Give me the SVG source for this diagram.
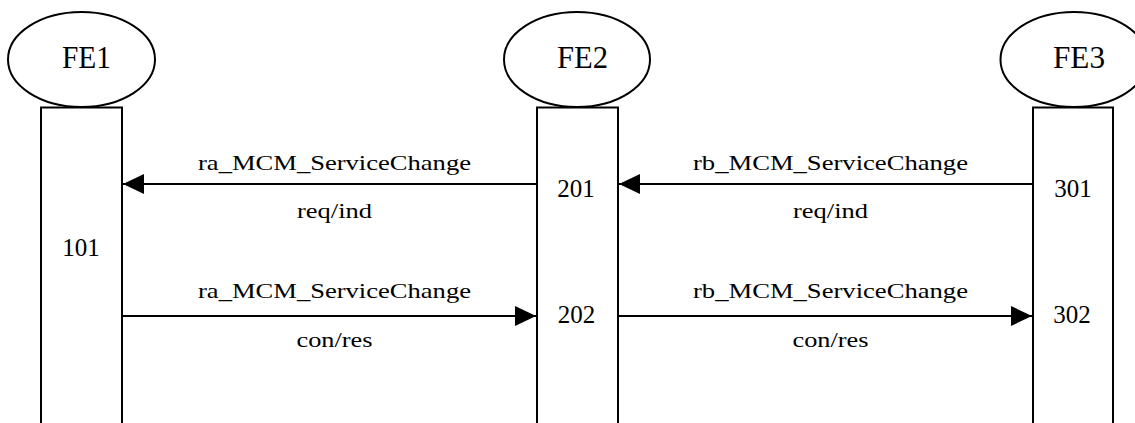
<svg xmlns="http://www.w3.org/2000/svg" width="1135" height="423" viewBox="0 0 1135 423">
<style>
.shape{fill:#fff;stroke:#000;stroke-width:2}
.t{font-family:'Liberation Serif','Times New Roman',Tinos,Times,'Nimbus Roman','Nimbus Roman No9 L',FreeSerif,serif;fill:#000;text-anchor:middle}
.fe{font-size:32px}
.num{font-size:25px}
.lbl{font-size:21px}
.conn{stroke:#000;stroke-width:2;fill:none}
</style>
<defs>
<marker id="ah" markerUnits="userSpaceOnUse" markerWidth="22" markerHeight="22" viewBox="0 0 22 22" refX="21" refY="11" orient="auto">
<path d="M0,1 L21,11 L0,21 Z" fill="#000"/>
</marker>
</defs>
<g id="FE1">
<ellipse class="shape" cx="81.5" cy="59.5" rx="73.5" ry="47.5"/>
<text class="t fe" x="86.5" y="67.5" textLength="49" lengthAdjust="spacingAndGlyphs">FE1</text>
<rect class="shape" x="41" y="107.5" width="81" height="330"/>
<text class="t num" x="81" y="256">101</text>
</g>
<g id="FE2">
<ellipse class="shape" cx="577" cy="59.5" rx="73" ry="47.5"/>
<text class="t fe" x="582.5" y="67.5" textLength="51" lengthAdjust="spacingAndGlyphs">FE2</text>
<rect class="shape" x="537" y="107.5" width="81" height="330"/>
<text class="t num" x="576" y="197">201</text>
<text class="t num" x="576.5" y="323">202</text>
</g>
<g id="FE3">
<ellipse class="shape" cx="1074" cy="59.5" rx="73.5" ry="47.5"/>
<text class="t fe" x="1079" y="67.5" textLength="52" lengthAdjust="spacingAndGlyphs">FE3</text>
<rect class="shape" x="1033" y="107.5" width="80" height="330"/>
<text class="t num" x="1073" y="197">301</text>
<text class="t num" x="1072" y="323">302</text>
</g>
<g id="connectors">
<line class="conn" x1="537" y1="184" x2="123" y2="184" marker-end="url(#ah)"/>
<text class="t lbl" x="334.5" y="170" textLength="273" lengthAdjust="spacingAndGlyphs">ra_MCM_ServiceChange</text>
<text class="t lbl" x="334.5" y="218" textLength="75" lengthAdjust="spacingAndGlyphs">req/ind</text>
<line class="conn" x1="1033" y1="184" x2="619" y2="184" marker-end="url(#ah)"/>
<text class="t lbl" x="830.5" y="170" textLength="275" lengthAdjust="spacingAndGlyphs">rb_MCM_ServiceChange</text>
<text class="t lbl" x="830.5" y="218" textLength="75" lengthAdjust="spacingAndGlyphs">req/ind</text>
<line class="conn" x1="122" y1="316" x2="536" y2="316" marker-end="url(#ah)"/>
<text class="t lbl" x="334.5" y="298" textLength="273" lengthAdjust="spacingAndGlyphs">ra_MCM_ServiceChange</text>
<text class="t lbl" x="334.5" y="347" textLength="76" lengthAdjust="spacingAndGlyphs">con/res</text>
<line class="conn" x1="618" y1="316" x2="1032" y2="316" marker-end="url(#ah)"/>
<text class="t lbl" x="830.5" y="298" textLength="275" lengthAdjust="spacingAndGlyphs">rb_MCM_ServiceChange</text>
<text class="t lbl" x="830.5" y="347" textLength="76" lengthAdjust="spacingAndGlyphs">con/res</text>
</g>
</svg>
